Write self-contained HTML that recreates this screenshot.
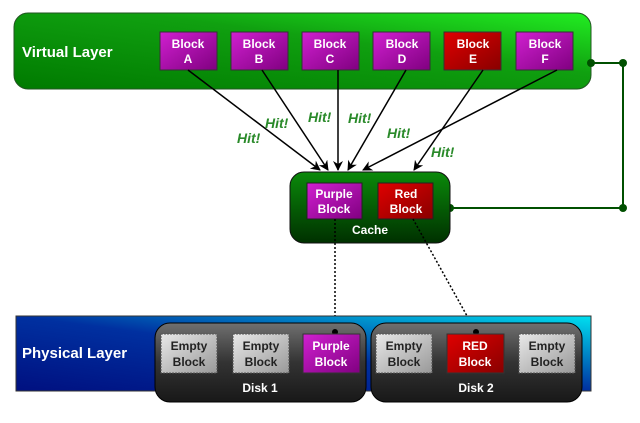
<!DOCTYPE html>
<html><head><style>body{margin:0;background:#fff}svg{display:block}text{font-family:"Liberation Sans",sans-serif;font-weight:bold}</style></head><body>
<svg width="640" height="423" viewBox="0 0 640 423">
<defs>
<linearGradient id="vg" x1="0" y1="1" x2="1" y2="0"><stop offset="0" stop-color="#007a00"/><stop offset="0.6" stop-color="#10a010"/><stop offset="1" stop-color="#22ee22"/></linearGradient>
<linearGradient id="pb" x1="0" y1="0" x2="1" y2="1"><stop offset="0" stop-color="#d020d0"/><stop offset="1" stop-color="#800080"/></linearGradient>
<linearGradient id="rb" x1="0" y1="0" x2="1" y2="1"><stop offset="0" stop-color="#e00000"/><stop offset="1" stop-color="#880000"/></linearGradient>
<linearGradient id="cg" x1="0" y1="0" x2="0" y2="1"><stop offset="0" stop-color="#0a8a0a"/><stop offset="1" stop-color="#003000"/></linearGradient>
<linearGradient id="pl" x1="0" y1="1" x2="1" y2="0"><stop offset="0" stop-color="#001080"/><stop offset="0.5" stop-color="#0030a0"/><stop offset="1" stop-color="#00e0f0"/></linearGradient>
<linearGradient id="dg" x1="0" y1="0" x2="0" y2="1"><stop offset="0" stop-color="#707070"/><stop offset="0.5" stop-color="#333"/><stop offset="1" stop-color="#181818"/></linearGradient>
<linearGradient id="eg" x1="0" y1="0" x2="1" y2="1"><stop offset="0" stop-color="#e8e8e8"/><stop offset="1" stop-color="#999"/></linearGradient>
<marker id="ah" markerWidth="10" markerHeight="10" refX="9" refY="5" orient="auto" markerUnits="userSpaceOnUse"><path d="M0,0 L10,5 L0,10 L3,5 Z" fill="#000"/></marker>
</defs>
<rect x="14" y="13" width="577" height="76" rx="14" fill="url(#vg)" stroke="#225522"/>
<text x="22" y="57" font-size="15" fill="#fff">Virtual Layer</text>
<g font-size="12" fill="#fff" text-anchor="middle">
<rect x="160" y="32" width="57" height="38" fill="url(#pb)" stroke="#333"/><text x="188" y="48">Block</text><text x="188" y="63">A</text>
<rect x="231" y="32" width="57" height="38" fill="url(#pb)" stroke="#333"/><text x="259" y="48">Block</text><text x="259" y="63">B</text>
<rect x="302" y="32" width="57" height="38" fill="url(#pb)" stroke="#333"/><text x="330" y="48">Block</text><text x="330" y="63">C</text>
<rect x="373" y="32" width="57" height="38" fill="url(#pb)" stroke="#333"/><text x="402" y="48">Block</text><text x="402" y="63">D</text>
<rect x="444" y="32" width="57" height="38" fill="url(#rb)" stroke="#333"/><text x="473" y="48">Block</text><text x="473" y="63">E</text>
<rect x="516" y="32" width="57" height="38" fill="url(#pb)" stroke="#333"/><text x="545" y="48">Block</text><text x="545" y="63">F</text>
</g>
<g stroke="#005000" stroke-width="2" fill="none"><polyline points="591,63 623,63 623,208 450,208"/></g>
<g fill="#005000"><circle cx="591" cy="63" r="4"/><circle cx="623" cy="63" r="4"/><circle cx="623" cy="208" r="4"/><circle cx="450" cy="208" r="4"/></g>
<g stroke="#000" stroke-width="1.5" marker-end="url(#ah)">
<line x1="188" y1="70" x2="320" y2="170"/><line x1="262" y1="70" x2="328" y2="170"/><line x1="338" y1="70" x2="338" y2="170"/><line x1="406" y1="70" x2="348" y2="170"/><line x1="557" y1="70" x2="363" y2="170"/><line x1="483" y1="70" x2="414" y2="170"/>
</g>
<g font-size="14" font-style="italic" fill="#2a8a2a">
<text x="237" y="143">Hit!</text><text x="265" y="128">Hit!</text><text x="308" y="122">Hit!</text><text x="348" y="123">Hit!</text><text x="387" y="138">Hit!</text><text x="431" y="157">Hit!</text>
</g>
<rect x="290" y="172" width="160" height="71" rx="14" fill="url(#cg)" stroke="#111"/>
<g font-size="12" fill="#fff" text-anchor="middle">
<rect x="307" y="183" width="55" height="36" fill="url(#pb)" stroke="#222"/><text x="334" y="198">Purple</text><text x="334" y="213">Block</text>
<rect x="378" y="183" width="55" height="36" fill="url(#rb)" stroke="#222"/><text x="406" y="198">Red</text><text x="406" y="213">Block</text>
<text x="370" y="234">Cache</text>
</g>
<g stroke="#000" stroke-width="1.5" stroke-dasharray="2,2"><line x1="335" y1="219" x2="335" y2="332"/><line x1="413" y1="219" x2="476" y2="332"/></g>
<rect x="16" y="316" width="575" height="75" fill="url(#pl)" stroke="#333"/>
<text x="22" y="358" font-size="15" fill="#fff">Physical Layer</text>
<rect x="155" y="323" width="211" height="79" rx="15" fill="url(#dg)" stroke="#000"/>
<rect x="371" y="323" width="211" height="79" rx="15" fill="url(#dg)" stroke="#000"/>
<g fill="#000"><circle cx="335" cy="332" r="3"/><circle cx="476" cy="332" r="3"/></g>
<g font-size="12" text-anchor="middle">
<rect x="161" y="334" width="56" height="39" fill="url(#eg)" stroke="#555" stroke-dasharray="2,1"/><text x="189" y="350" fill="#222">Empty</text><text x="189" y="366" fill="#222">Block</text>
<rect x="233" y="334" width="56" height="39" fill="url(#eg)" stroke="#555" stroke-dasharray="2,1"/><text x="261" y="350" fill="#222">Empty</text><text x="261" y="366" fill="#222">Block</text>
<rect x="303" y="334" width="57" height="39" fill="url(#pb)" stroke="#333"/><text x="331" y="350" fill="#fff">Purple</text><text x="331" y="366" fill="#fff">Block</text>
<rect x="376" y="334" width="56" height="39" fill="url(#eg)" stroke="#555" stroke-dasharray="2,1"/><text x="404" y="350" fill="#222">Empty</text><text x="404" y="366" fill="#222">Block</text>
<rect x="447" y="334" width="57" height="39" fill="url(#rb)" stroke="#333"/><text x="475" y="350" fill="#fff">RED</text><text x="475" y="366" fill="#fff">Block</text>
<rect x="519" y="334" width="56" height="39" fill="url(#eg)" stroke="#555" stroke-dasharray="2,1"/><text x="547" y="350" fill="#222">Empty</text><text x="547" y="366" fill="#222">Block</text>
<text x="260" y="392" fill="#fff">Disk 1</text><text x="476" y="392" fill="#fff">Disk 2</text>
</g>
</svg>
</body></html>
